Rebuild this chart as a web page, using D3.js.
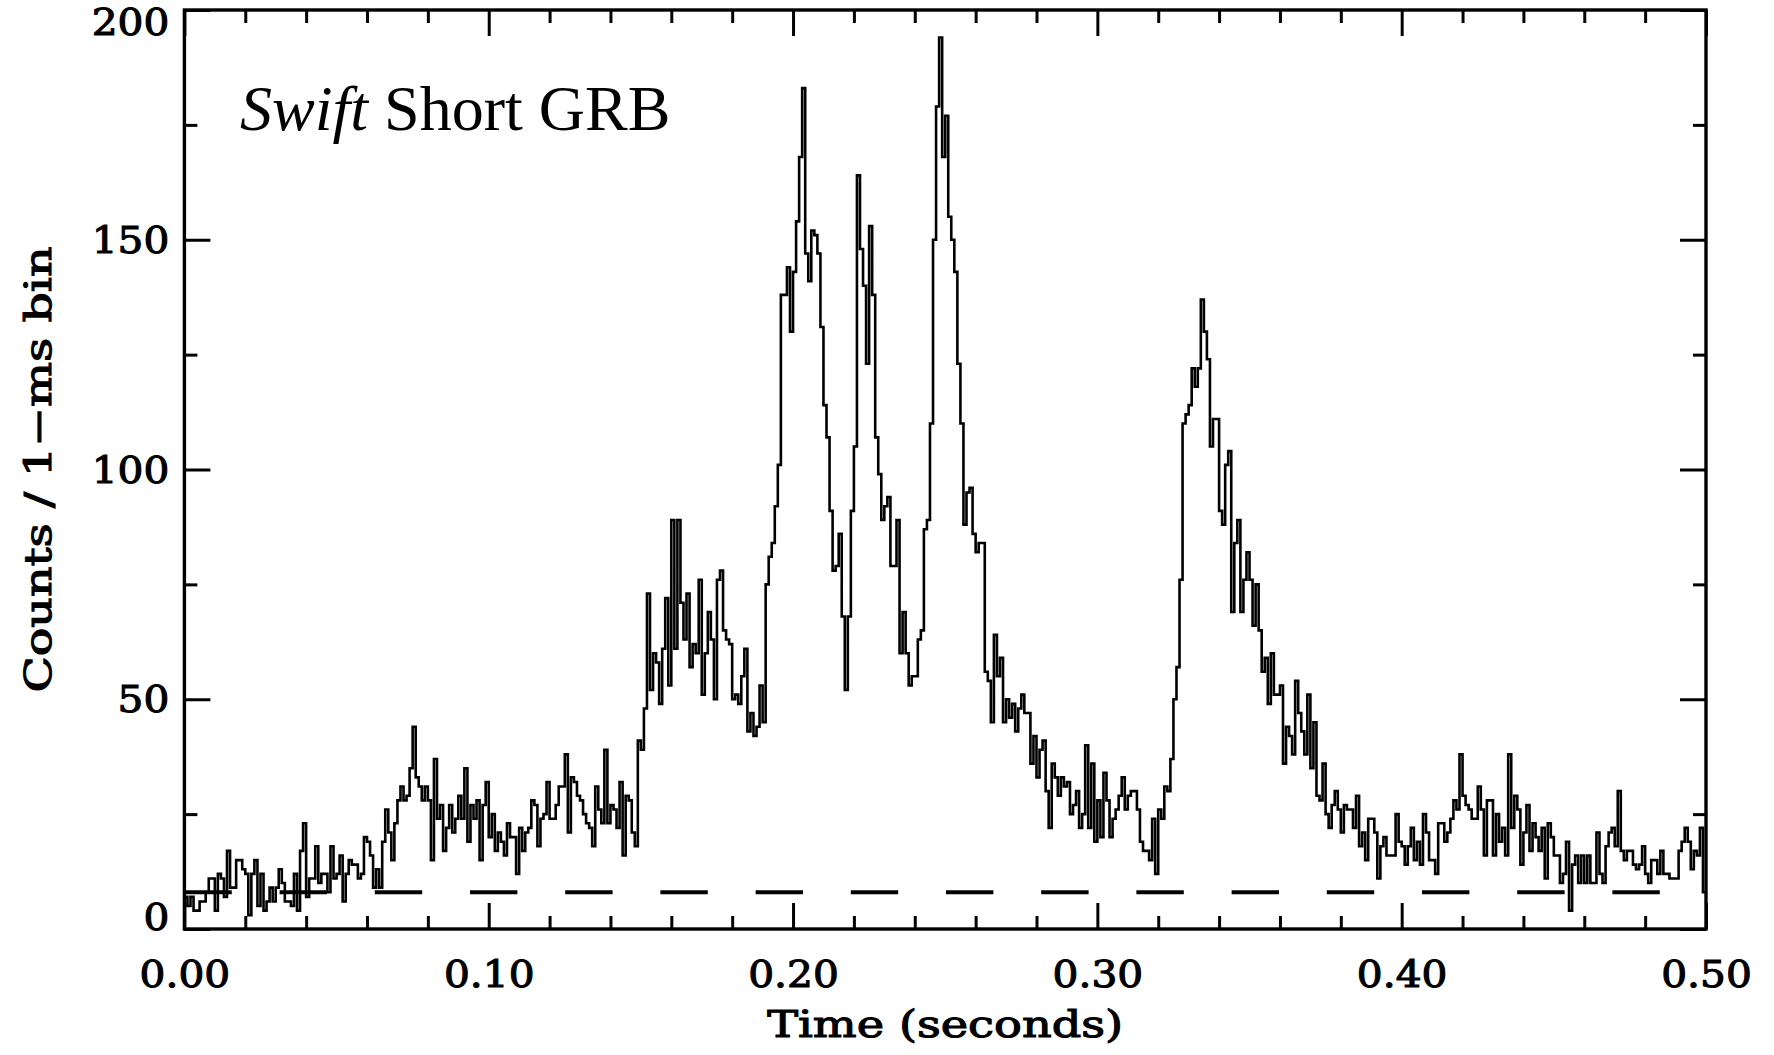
<!DOCTYPE html>
<html>
<head>
<meta charset="utf-8">
<script src="https://cdn.jsdelivr.net/npm/d3@7"></script>
<style>
html, body { margin: 0; padding: 0; background: #ffffff; }
svg { display: block; }
</style>
</head>
<body>
<svg id="chart" width="1774" height="1055"></svg>
<script>
// ---- data: counts per 1-ms bin, t = 0 .. 0.5 s ----
const counts = [
  7,5,7,4,4,6,6,8,11,11,
  4,12,11,7,17,9,9,15,15,13,
  12,3,12,15,5,12,4,6,9,6,
  9,13,10,6,6,5,12,4,17,23,
  7,11,11,18,10,12,12,8,18,11,
  12,16,6,12,15,14,14,11,12,20,
  19,16,9,13,9,19,26,21,15,23,
  28,31,28,29,35,44,33,31,28,31,
  28,15,37,24,27,17,22,27,21,24,
  29,24,35,19,27,24,28,15,27,32,
  20,25,17,21,19,16,23,20,20,12,
  22,17,21,22,28,27,18,24,25,32,
  24,24,27,31,31,38,21,33,32,29,
  28,25,23,22,18,31,26,23,39,23,
  27,26,22,32,16,29,28,21,18,41,
  39,48,73,52,60,58,49,61,72,53,
  89,61,89,71,63,73,57,62,60,76,
  51,60,69,63,50,76,78,65,63,62,
  50,51,49,55,61,43,47,42,44,53,
  45,75,81,84,92,101,138,138,144,130,
  143,154,168,183,147,141,152,151,147,131,
  114,107,91,78,79,86,68,52,68,91,
  105,164,148,140,123,153,138,107,99,89,
  92,94,79,79,89,60,69,60,53,55,
  55,63,65,87,89,110,150,179,194,168,
  177,155,150,143,123,110,88,95,96,86,
  82,84,84,56,54,45,64,55,59,45,
  50,46,49,43,48,51,47,47,36,42,
  33,39,41,30,22,36,33,29,33,31,
  32,25,27,30,22,25,40,22,36,19,
  28,20,34,28,20,24,26,29,33,26,
  29,30,30,26,19,17,17,15,24,12,
  26,24,31,30,37,50,57,76,110,112,
  114,122,118,122,137,130,124,105,111,111,
  91,88,101,104,69,84,89,69,76,82,
  76,66,75,65,56,59,49,60,51,51,
  53,36,44,42,38,54,47,43,38,51,
  35,45,29,28,36,25,22,27,30,26,
  21,27,26,26,22,29,18,21,15,24,
  24,21,11,18,20,16,16,16,25,19,
  18,14,18,22,15,19,14,25,21,15,
  15,12,23,23,19,21,24,28,26,38,
  29,27,26,24,24,31,26,16,28,28,
  16,25,19,22,16,38,22,29,26,14,
  21,27,17,23,20,17,22,11,23,20,
  16,16,10,12,19,4,14,16,10,16,
  10,16,10,10,21,12,10,18,21,22,
  18,30,17,15,17,17,14,13,14,18,
  12,10,15,15,12,17,12,12,11,11,
  11,17,19,22,19,13,17,16,22,8
];
const binWidth = 0.001;          // seconds
const backgroundLevel = 8;       // dashed background line (counts)
const xDomain = [0, 0.5];
const yDomain = [0, 200];
const xMajorTicks = [0, 0.1, 0.2, 0.3, 0.4, 0.5];
const xTickLabels = ["0.00", "0.10", "0.20", "0.30", "0.40", "0.50"];
const xMinorTicks = [0.02, 0.04, 0.06, 0.08, 0.12, 0.14, 0.16, 0.18, 0.22, 0.24, 0.26, 0.28,
                     0.32, 0.34, 0.36, 0.38, 0.42, 0.44, 0.46, 0.48];
const yMajorTicks = [0, 50, 100, 150, 200];
const yTickLabels = ["0", "50", "100", "150", "200"];
const yMinorTicks = [25, 75, 125, 175];
const xTitle = "Time (seconds)";
const yTitle = "Counts / 1\u2212ms bin";
const titleItalic = "Swift";
const titleRest = " Short GRB";

// ---- layout ----
const m = { left: 184.4, right: 1706, top: 10, bottom: 929 };
const FONT = "'DejaVu Serif', serif";
const FS = 37;
const TEXT_STROKE = 1.1;

const x = d3.scaleLinear().domain(xDomain).range([m.left, m.right]);
const y = d3.scaleLinear().domain(yDomain).range([m.bottom, m.top]);
const svg = d3.select("#chart");

// background dashed line
svg.append("line")
  .attr("x1", x(xDomain[0])).attr("x2", x(xDomain[1]))
  .attr("y1", y(backgroundLevel)).attr("y2", y(backgroundLevel))
  .attr("stroke", "#000").attr("stroke-width", 4)
  .attr("stroke-dasharray", "47.4,47.8");

// histogram step line
const pts = counts.map((c, i) => [i * binWidth, c]);
pts.push([counts.length * binWidth, counts[counts.length - 1]]);
svg.append("path")
  .attr("d", d3.line().x(d => x(d[0])).y(d => y(d[1])).curve(d3.curveStepAfter)(pts))
  .attr("fill", "none").attr("stroke", "#000").attr("stroke-width", 2.6)
  .attr("stroke-linejoin", "miter");

function styleAxis(g) {
  g.select(".domain").remove();
  g.selectAll(".tick line").attr("stroke", "#000").attr("stroke-width", 3);
  g.selectAll(".tick text").attr("font-family", FONT).attr("font-size", FS).attr("fill", "#000")
    .attr("stroke", "#000").attr("stroke-width", TEXT_STROKE);
}

// bottom
svg.append("g").attr("transform", `translate(0,${m.bottom})`)
  .call(d3.axisBottom(x).tickValues(xMajorTicks).tickSizeInner(-26).tickSizeOuter(0)
        .tickPadding(32).tickFormat((d, i) => xTickLabels[i]))
  .call(styleAxis);
svg.append("g").attr("transform", `translate(0,${m.bottom})`)
  .call(d3.axisBottom(x).tickValues(xMinorTicks).tickSizeInner(-13).tickSizeOuter(0).tickFormat(""))
  .call(styleAxis);
// top
svg.append("g").attr("transform", `translate(0,${m.top})`)
  .call(d3.axisTop(x).tickValues(xMajorTicks).tickSizeInner(-26).tickSizeOuter(0).tickFormat(""))
  .call(styleAxis);
svg.append("g").attr("transform", `translate(0,${m.top})`)
  .call(d3.axisTop(x).tickValues(xMinorTicks).tickSizeInner(-13).tickSizeOuter(0).tickFormat(""))
  .call(styleAxis);
// left
const gLeft = svg.append("g").attr("transform", `translate(${m.left},0)`)
  .call(d3.axisLeft(y).tickValues(yMajorTicks).tickSizeInner(-26).tickSizeOuter(0)
        .tickPadding(15).tickFormat((d, i) => yTickLabels[i]))
  .call(styleAxis);
gLeft.selectAll(".tick text").attr("dy", d => d === yDomain[0] ? "0.0em" : (d === yDomain[1] ? "0.66em" : "0.34em"));
svg.append("g").attr("transform", `translate(${m.left},0)`)
  .call(d3.axisLeft(y).tickValues(yMinorTicks).tickSizeInner(-13).tickSizeOuter(0).tickFormat(""))
  .call(styleAxis);
// right
svg.append("g").attr("transform", `translate(${m.right},0)`)
  .call(d3.axisRight(y).tickValues(yMajorTicks).tickSizeInner(-26).tickSizeOuter(0).tickFormat(""))
  .call(styleAxis);
svg.append("g").attr("transform", `translate(${m.right},0)`)
  .call(d3.axisRight(y).tickValues(yMinorTicks).tickSizeInner(-13).tickSizeOuter(0).tickFormat(""))
  .call(styleAxis);

// widen tick labels slightly to match the reference's wide vector font
svg.selectAll(".tick text").each(function() {
  const w = this.getComputedTextLength();
  if (w > 0) d3.select(this).attr("textLength", w * 1.1).attr("lengthAdjust", "spacingAndGlyphs");
});

// frame
svg.append("rect")
  .attr("x", m.left).attr("y", m.top)
  .attr("width", m.right - m.left).attr("height", m.bottom - m.top)
  .attr("fill", "none").attr("stroke", "#000").attr("stroke-width", 3.4);

// axis titles
svg.append("text")
  .attr("x", (m.left + m.right) / 2).attr("y", 1037)
  .attr("text-anchor", "middle")
  .attr("font-family", FONT).attr("font-size", FS).attr("fill", "#000")
  .attr("stroke", "#000").attr("stroke-width", TEXT_STROKE)
  .attr("textLength", 356).attr("lengthAdjust", "spacingAndGlyphs")
  .text(xTitle);
svg.append("text")
  .attr("transform", `translate(51,${(m.top + m.bottom) / 2}) rotate(-90)`)
  .attr("text-anchor", "middle")
  .attr("font-family", FONT).attr("font-size", FS).attr("fill", "#000")
  .attr("stroke", "#000").attr("stroke-width", TEXT_STROKE)
  .attr("textLength", 446).attr("lengthAdjust", "spacingAndGlyphs")
  .text(yTitle);

// in-plot title
const t = svg.append("text")
  .attr("x", 240).attr("y", 130)
  .attr("font-family", "'Liberation Serif', 'Times New Roman', serif")
  .attr("font-size", 64).attr("fill", "#000");
t.append("tspan").attr("font-style", "italic").text(titleItalic);
t.append("tspan").text(titleRest);
</script>
</body>
</html>
